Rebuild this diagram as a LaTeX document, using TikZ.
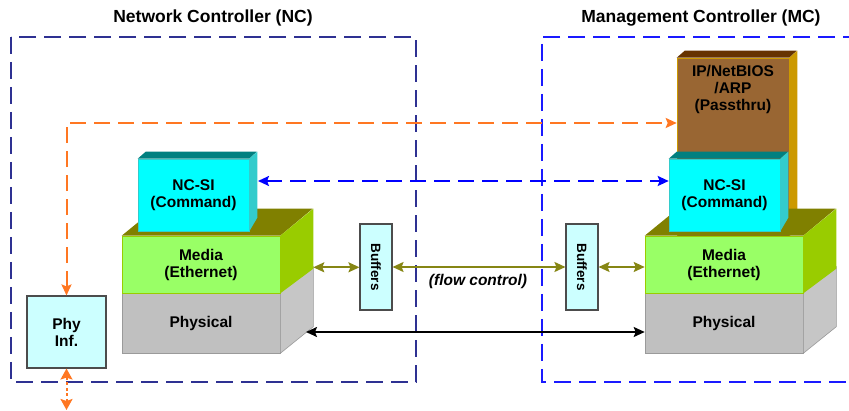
\documentclass[tikz,border=0pt]{standalone}
\usepackage{fontspec}
\setmainfont{Liberation Sans}
\usetikzlibrary{arrows.meta,calc}

\definecolor{ncnavy}{HTML}{2E3192}
\definecolor{mcblue}{HTML}{1A1AFF}
\definecolor{orangeln}{HTML}{FF7722}
\definecolor{oliveln}{HTML}{868614}
\definecolor{cyanfront}{HTML}{00FFFF}
\definecolor{cyantop}{HTML}{008080}
\definecolor{cyanside}{HTML}{33CCCC}
\definecolor{greenfront}{HTML}{99FF66}
\definecolor{greentop}{HTML}{808000}
\definecolor{greenside}{HTML}{99CC00}
\definecolor{grayfront}{HTML}{C0C0C0}
\definecolor{grayside}{HTML}{C6C6C6}
\definecolor{brownfront}{HTML}{996633}
\definecolor{browntop}{HTML}{663300}
\definecolor{brownside}{HTML}{CC9900}
\definecolor{paleblue}{HTML}{CCFFFF}

\tikzset{
  lbl/.style={font=\bfseries\fontsize{15.5}{17}\selectfont, align=center, text=black},
  title/.style={font=\bfseries\fontsize{17.5}{20}\selectfont, text=black},
  front/.style={lbl, draw=#1, line width=0.6pt, inner sep=0pt},
  smallbox/.style={lbl, draw=black!70, line width=1.1pt, fill=paleblue, inner sep=0pt},
  ctrlframe/.style={line width=2.2pt, dash pattern=on 17pt off 8pt},
  tips/.style={{Stealth[length=11pt,width=10pt,inset=2pt]}-{Stealth[length=11pt,width=10pt,inset=2pt]}},
  dashedarrow/.style={line width=2pt, dash pattern=on 16pt off 8pt, tips},
  solidarrow/.style={line width=1.8pt, tips},
}

\begin{document}
\begin{tikzpicture}[x=1pt,y=-1pt]
\useasboundingbox (0,0) rectangle (849,411);

% controller frames
\draw[ctrlframe, ncnavy] (11,37) rectangle (416,382);
\draw[ctrlframe, mcblue] (860,37) -- (542,37) -- (542,382) -- (860,382);
\node[title] (nctitle) at (213,18) {Network Controller (NC)};
\node[title] (mctitle) at (701,18) {Management Controller (MC)};

% ---------- NC stack ----------
\node[front=grayfront!80!black, fill=grayfront, minimum width=158pt, minimum height=60pt] (ncphys) at (201,323) {Physical};
\fill[grayside, draw=grayfront!80!black, line width=0.6pt] (ncphys.north east) -- ++(33,-26) -- ++(0,60) -- (ncphys.south east) -- cycle;
\node[front=greenside, fill=greenfront, minimum width=158pt, minimum height=57pt] (ncmedia) at (201,264.5) {Media\\(Ethernet)};
\fill[greentop] (ncmedia.north west) -- ++(33,-27) -- ++(158,0) -- (ncmedia.north east) -- cycle;
\fill[greenside] (ncmedia.north east) -- ++(33,-27) -- ++(0,60) -- (ncmedia.south east) -- cycle;
\node[front=cyanside, fill=cyanfront, minimum width=111pt, minimum height=72pt] (ncsi) at (193.5,195) {NC-SI\\(Command)};
\fill[cyantop] (ncsi.north west) -- ++(8,-7) -- ++(111,0) -- (ncsi.north east) -- cycle;
\fill[cyanside] (ncsi.north east) -- ++(8,-7) -- ++(0,66) -- (ncsi.south east) -- cycle;

% ---------- MC stack ----------
\node[front=grayfront!80!black, fill=grayfront, minimum width=158pt, minimum height=60pt] (mcphys) at (724,323) {Physical};
\fill[grayside, draw=grayfront!80!black, line width=0.6pt] (mcphys.north east) -- ++(33,-26) -- ++(0,60) -- (mcphys.south east) -- cycle;
\node[front=brownside, fill=brownfront, minimum width=112pt, minimum height=178pt] (pass) at (733,147) {};
\node[lbl, anchor=north] (passtext) at (733,62) {IP/NetBIOS\\/ARP\\(Passthru)};
\fill[browntop] (pass.north west) -- ++(8,-7) -- ++(112,0) -- (pass.north east) -- cycle;
\fill[brownside] (pass.north east) -- ++(8,-7) -- ++(0,178) -- (pass.south east) -- cycle;
\node[front=greenside, fill=greenfront, minimum width=158pt, minimum height=57pt] (mcmedia) at (724,264.5) {Media\\(Ethernet)};
\fill[greentop] (mcmedia.north west) -- ++(33,-27) -- ++(158,0) -- (mcmedia.north east) -- cycle;
\fill[greenside] (mcmedia.north east) -- ++(33,-27) -- ++(0,60) -- (mcmedia.south east) -- cycle;
\node[front=cyanside, fill=cyanfront, minimum width=111pt, minimum height=72pt] (mcsi) at (724.5,195) {NC-SI\\(Command)};
\fill[cyantop] (mcsi.north west) -- ++(8,-7) -- ++(111,0) -- (mcsi.north east) -- cycle;
\fill[cyanside] (mcsi.north east) -- ++(8,-7) -- ++(0,66) -- (mcsi.south east) -- cycle;

% ---------- small boxes ----------
\node[smallbox, minimum width=79pt, minimum height=72pt] (phy) at (66.5,332) {Phy\\Inf.};
\node[smallbox, minimum width=32pt, minimum height=86pt] (ncbuf) at (376,267) {};
\node[lbl, font=\bfseries\fontsize{13.5}{15}\selectfont, rotate=-90] (ncbuftext) at (ncbuf.center) {Buffers};
\node[smallbox, minimum width=32pt, minimum height=86pt] (mcbuf) at (582,267) {};
\node[lbl, font=\bfseries\fontsize{13.5}{15}\selectfont, rotate=-90] (mcbuftext) at (mcbuf.center) {Buffers};
\node[lbl, font=\bfseries\itshape\fontsize{15.5}{17}\selectfont] (flow) at (478,281) {(flow control)};

% ---------- connector ends ----------
\coordinate (ncmediaside) at ($(ncmedia.south east)+(33,-26)$);
\coordinate (ncsiside) at (258,181);
\coordinate (ncphysside) at (306,332);
\coordinate (orangecorner) at (phy.north |- 0,123);
\coordinate (phyout) at (66.5,410);

% ---------- connectors ----------
\draw[dashedarrow, orangeln] (phy.north) -- (orangecorner) -- (pass.west |- orangecorner);
\draw[orangeln, line width=2pt, dash pattern=on 3pt off 2.5pt,
  {Stealth[length=11pt,width=12pt,inset=2pt]}-{Stealth[length=11pt,width=12pt,inset=2pt]}]
  (phy.south) -- (phyout);
\draw[dashedarrow, blue] (ncsiside) -- (mcsi.west |- ncsiside);
\draw[solidarrow, oliveln] (ncmediaside) -- (ncbuf.west |- ncmediaside);
\draw[solidarrow, oliveln] (ncbuf.east) -- (mcbuf.west);
\draw[solidarrow, oliveln] (mcbuf.east) -- (mcbuf.east -| mcmedia.west);
\draw[solidarrow, black] (ncphysside) -- (mcphys.west |- ncphysside);
\end{tikzpicture}
\end{document}
